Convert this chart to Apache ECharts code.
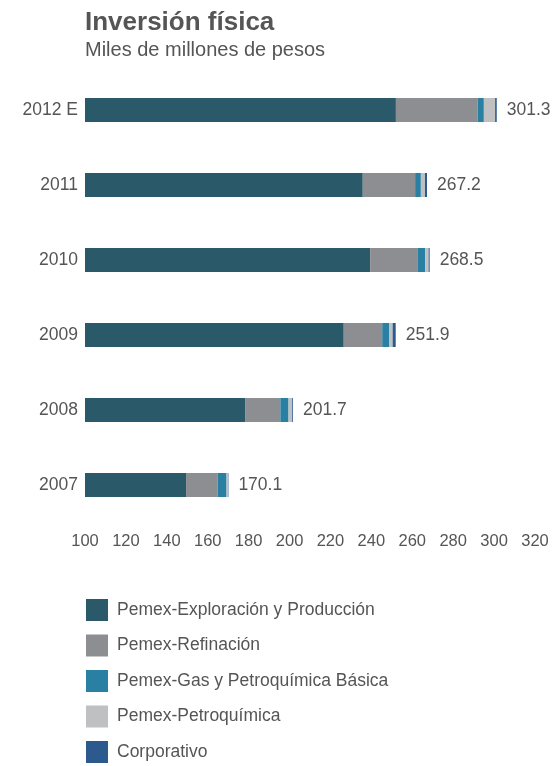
<!DOCTYPE html>
<html>
<head>
<meta charset="utf-8">
<script src="https://cdn.jsdelivr.net/npm/echarts@6/dist/echarts.min.js"></script>
<style>html,body{margin:0;padding:0;background:#fff}#c{width:555px;height:766px}</style>
</head>
<body>
<div id="c"></div>
<script>
const categories = ['2007', '2008', '2009', '2010', '2011', '2012 E'];
const exploracion = [149.4, 178.5, 226.5, 239.4, 235.8, 252.0];
const refinacion = [15.5, 17.0, 18.8, 23.1, 25.6, 40.0];
const gas = [4.3, 4.0, 3.5, 3.8, 2.8, 3.0];
const petroquimica = [0.7, 1.8, 1.6, 1.7, 2.0, 5.5];
const corporativo = [0.2, 0.4, 1.5, 0.5, 1.0, 0.8];
const totals = ['170.1', '201.7', '251.9', '268.5', '267.2', '301.3'];
const xTicks = [100, 120, 140, 160, 180, 200, 220, 240, 260, 280, 300, 320];

const font = 'Liberation Sans, Arial, Helvetica, sans-serif';
const textColor = '#555';
const names = ['Pemex-Exploración y Producción', 'Pemex-Refinación', 'Pemex-Gas y Petroquímica Básica', 'Pemex-Petroquímica', 'Corporativo'];
const colors = ['#2a5a6a', '#8d8e92', '#2a80a2', '#bfc0c2', '#2c5a8c'];
const seriesData = [exploracion, refinacion, gas, petroquimica, corporativo];

const chart = echarts.init(document.getElementById('c'));
chart.setOption({
  animation: false,
  textStyle: { fontFamily: font },
  title: {
    text: 'Inversión física',
    subtext: 'Miles de millones de pesos',
    left: 80,
    top: 5,
    itemGap: 4,
    textStyle: { fontFamily: font, fontSize: 26, fontWeight: 'bold', color: textColor },
    subtextStyle: { fontFamily: font, fontSize: 20, color: textColor }
  },
  grid: { left: 85, right: 20, top: 72.5, bottom: 243.5, containLabel: false },
  xAxis: {
    type: 'value',
    min: xTicks[0],
    max: xTicks[xTicks.length - 1],
    interval: 20,
    axisLine: { show: false },
    axisTick: { show: false },
    splitLine: { show: false },
    axisLabel: { color: textColor, fontSize: 16.5, fontFamily: font, margin: 10 }
  },
  yAxis: {
    type: 'category',
    data: categories,
    axisLine: { show: false },
    axisTick: { show: false },
    axisLabel: { color: textColor, fontSize: 17.5, fontFamily: font, margin: 7 }
  },
  legend: {
    orient: 'vertical',
    left: 81,
    top: 594,
    height: 200,
    itemWidth: 22,
    itemHeight: 22,
    itemGap: 13.5,
    icon: 'rect',
    textStyle: { color: textColor, fontSize: 17.5, fontFamily: font, padding: [0, 0, 0, 4] },
    data: names
  },
  series: seriesData.map((d, i) => ({
    name: names[i],
    type: 'bar',
    stack: 'total',
    data: d,
    barWidth: 24,
    itemStyle: { color: colors[i] },
    label: i === 4 ? {
      show: true,
      position: 'right',
      distance: 10,
      color: textColor,
      fontSize: 17.5,
      fontFamily: font,
      formatter: p => totals[p.dataIndex]
    } : { show: false }
  }))
});
</script>
</body>
</html>
